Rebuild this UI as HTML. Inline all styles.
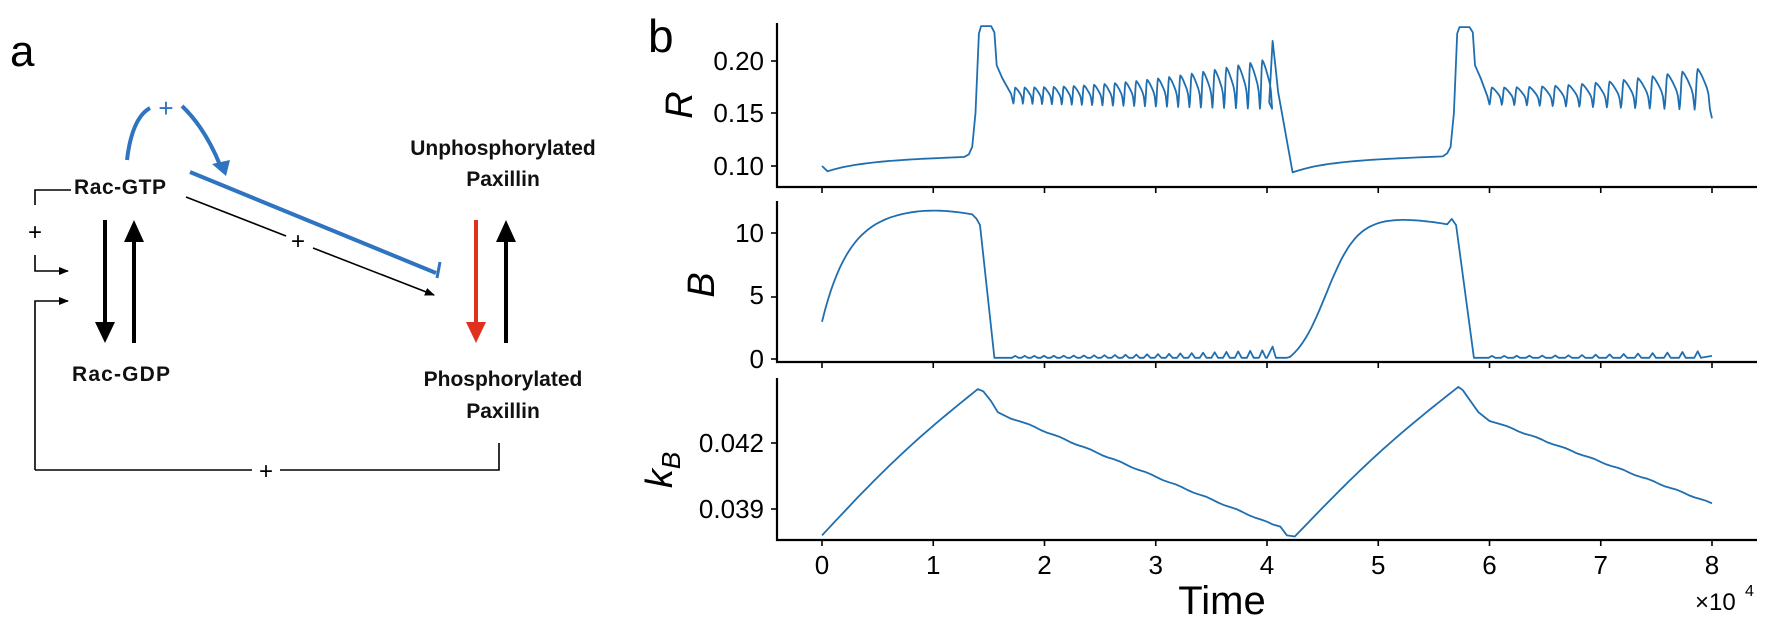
<!DOCTYPE html>
<html><head><meta charset="utf-8"><style>
html,body{margin:0;padding:0;background:#fff;width:1768px;height:626px;overflow:hidden}
svg{display:block}
text{font-family:"Liberation Sans","DejaVu Sans",sans-serif}
</style></head><body>
<svg id="s" width="1768" height="626" viewBox="0 0 1768 626" xmlns="http://www.w3.org/2000/svg">
<defs>
<marker id="ah" markerWidth="10" markerHeight="8" refX="9" refY="4" orient="auto" markerUnits="userSpaceOnUse"><path d="M0,0 L10,4 L0,8 Z" fill="#000"/></marker>
</defs>
<text x="10" y="66" font-size="44" fill="#000">a</text>
<g font-weight="bold" font-size="21" fill="#111">
<text x="74" y="194" textLength="92">Rac-GTP</text>
<text x="72" y="381" textLength="98">Rac-GDP</text>
<text x="503" y="155" text-anchor="middle">Unphosphorylated</text>
<text x="503" y="186" text-anchor="middle">Paxillin</text>
<text x="503" y="386" text-anchor="middle">Phosphorylated</text>
<text x="503" y="418" text-anchor="middle">Paxillin</text>
</g>
<g stroke="#000" fill="none" stroke-width="1.6">
<polyline points="35,205 35,190 71,190"/>
<polyline points="35,255 35,271 68,271" marker-end="url(#ah)"/>
<polyline points="35,470 35,301 68,301" marker-end="url(#ah)"/>
<polyline points="35,470 252,470"/><polyline points="280,470 499,470 499,443"/>
<line x1="186" y1="197" x2="286" y2="236"/>
<line x1="313" y1="248" x2="434" y2="295" marker-end="url(#ah)"/>
</g>
<g font-size="24" fill="#000"><text x="35" y="240" text-anchor="middle">+</text><text x="298" y="249" text-anchor="middle">+</text><text x="266" y="479" text-anchor="middle">+</text></g>
<g stroke="#000" stroke-width="4" fill="none"><line x1="105" y1="220" x2="105" y2="325"/><line x1="134" y1="240" x2="134" y2="343"/><line x1="506" y1="240" x2="506" y2="343"/></g>
<path d="M95,322 L115,322 L105,343 Z M124,242 L144,242 L134,220 Z M496,242 L516,242 L506,220 Z" fill="#000"/>
<line x1="476" y1="220" x2="476" y2="325" stroke="#e0301e" stroke-width="4"/>
<path d="M466,322 L486,322 L476,343 Z" fill="#e0301e"/>
<g stroke="#2f74c0" fill="none" stroke-width="4">
<path d="M127,160 Q132,118 150,108"/>
<path d="M182,106 Q205,128 220,165"/>
<line x1="190" y1="172" x2="436" y2="273"/>
<line x1="440" y1="262" x2="437" y2="278" stroke-width="3"/>
</g>
<path d="M212,164 L230,160 L226,176 Z" fill="#2f74c0"/>
<text x="166" y="117" font-size="26" fill="#2f74c0" text-anchor="middle">+</text>
<text x="648" y="52" font-size="46" fill="#000">b</text>
<g stroke="#000" stroke-width="2.2" fill="none">
<polyline points="777,23 777,187 1757,187"/>
<polyline points="777,201 777,362 1757,362"/>
<polyline points="777,378 777,540 1757,540"/>
</g>
<g id="ticks" stroke="#000" stroke-width="1.6"></g>
<g font-size="26" fill="#000" text-anchor="end">
<text x="764" y="70">0.20</text><text x="764" y="122">0.15</text><text x="764" y="175">0.10</text>
<text x="764" y="242">10</text><text x="764" y="304">5</text><text x="764" y="368">0</text>
<text x="764" y="452">0.042</text><text x="764" y="518">0.039</text>
</g>
<g id="xl" font-size="26" fill="#000" text-anchor="middle"></g>
<text x="1222" y="614" font-size="40" text-anchor="middle">Time</text>
<text x="1695" y="610" font-size="24">×10</text><text x="1745" y="596" font-size="16">4</text>
<g font-size="38" font-style="italic" fill="#000">
<text transform="translate(692,105) rotate(-90)" text-anchor="middle">R</text>
<text transform="translate(714,285) rotate(-90)" text-anchor="middle">B</text>
<text transform="translate(672,470) rotate(-90)" text-anchor="middle">k<tspan font-size="26" dy="8">B</tspan></text>
</g>
<g id="curves" fill="none" stroke="#1f6fb0" stroke-width="1.8" stroke-linejoin="round"></g>
</svg>
<script>
var X=function(t){return 822+t*111.25;};
var ns="http://www.w3.org/2000/svg";
var tk=document.getElementById('ticks'),xl=document.getElementById('xl');
function ln(x1,y1,x2,y2){var l=document.createElementNS(ns,'line');l.setAttribute('x1',x1);l.setAttribute('y1',y1);l.setAttribute('x2',x2);l.setAttribute('y2',y2);tk.appendChild(l);}
[61,113,166,233,297,359,443,509].forEach(function(y){ln(771,y,777,y);});
for(var k=0;k<=8;k++){var x=X(k);ln(x,187,x,193);ln(x,362,x,368);ln(x,540,x,546);
var t=document.createElementNS(ns,'text');t.setAttribute('x',x);t.setAttribute('y',574);t.textContent=k;xl.appendChild(t);}
function osc(start,end,p0,p1,pk0,pk1,mn){var pts=[],peaks=[];var t=start;
 while(t<end){var f=(t-start)/(end-start);var per=p0+(p1-p0)*f;var pk=pk0+(pk1-pk0)*f*f;var m=mn-0.005*f;
  var tr=per*0.2;
  for(var i=0;i<=4;i++){var u=i/4;pts.push([t+tr*u,m+(pk-m)*(0.5-0.5*Math.cos(Math.PI*u))]);}
  for(var i=1;i<=8;i++){var u=i/8;var d=u<0.85?(pk-m)*(1-0.55*Math.pow(u/0.85,1.3)):(pk-m)*0.45*(1-(u-0.85)/0.15);pts.push([t+tr+(per-tr)*u,m+d]);}
  peaks.push([t+tr,f]);t+=per;}
 return {pts:pts,peaks:peaks,t:t};}
var R=[],B=[],K=[];
function addSmooth(arr,f,a,b,n){for(var i=0;i<=n;i++){var t=a+(b-a)*i/n;arr.push([t,f(t)]);}}
R.push([0,0.100],[0.05,0.095]);
addSmooth(R,function(t){return 0.095+0.009*(1-Math.exp(-(t-0.05)/0.3))+0.005*(t-0.05)/1.3;},0.1,1.28,30);
R.push([1.32,0.111],[1.35,0.118],[1.38,0.15],[1.41,0.225],[1.43,0.232],[1.52,0.232],[1.55,0.226],[1.57,0.195],[1.62,0.183],[1.7,0.168]);
var o1=osc(1.72,3.95,0.085,0.11,0.174,0.2,0.159);R=R.concat(o1.pts);
R.push([4.02,0.16],[4.05,0.218],[4.08,0.19],[4.1,0.17],[4.23,0.094]);
addSmooth(R,function(t){return 0.094+0.01*(1-Math.exp(-(t-4.23)/0.3))+0.005*(t-4.23)/1.3;},4.25,5.58,30);
R.push([5.62,0.112],[5.65,0.118],[5.68,0.15],[5.71,0.225],[5.73,0.231],[5.82,0.231],[5.85,0.226],[5.87,0.195],[5.92,0.183],[5.98,0.166]);
var o2=osc(6.0,7.92,0.11,0.14,0.174,0.193,0.158);R=R.concat(o2.pts);
R.push([8.0,0.145]);
function Bup(s){var v=3+9.2*(1-Math.exp(-s/0.25));if(s>0.8)v-=0.5*Math.pow((s-0.8)/0.55,2);return v;}
addSmooth(B,Bup,0,1.35,50);B.push([1.39,11.3],[1.42,10.8],[1.55,0.1]);
function bumps(list,a,b,amp0,amp1){var out=[];out.push([a,0.1]);list.forEach(function(p){var tt=p[0];var f=p[1];if(tt<a||tt>b)return;var amp=amp0+(amp1-amp0)*f*f;out.push([tt-0.03,0.1],[tt,0.1+amp],[tt+0.03,0.1]);});return out;}
B=B.concat(bumps(o1.peaks,1.55,4.0,0.15,0.6));B.push([4.0,0.1],[4.05,1.0],[4.08,0.1],[4.18,0.1]);
addSmooth(B,function(t){var s=t-4.18;var v=12.3/(1+Math.exp(-(s-0.35)/0.14))-12.3/(1+Math.exp(0.35/0.14));if(t>5.0)v-=0.5*Math.pow((t-5.0)/0.62,2);return Math.max(0.1,v);},4.18,5.62,60);
B.push([5.66,11.3],[5.7,10.8],[5.86,0.1]);B=B.concat(bumps(o2.peaks,5.86,8,0.15,0.55));B.push([8,0.25]);
function addLin(arr,a,va,b,vb,n,w){for(var i=0;i<=n;i++){var f=i/n;var t=a+(b-a)*f;var v=va+(vb-va)*f;if(w)v+=w*Math.sin(i*1.3)*0.5;arr.push([t,v]);}}
addSmooth(K,function(t){return 0.0378+0.00665*(t/1.4)+0.0003*Math.sin(Math.PI*t/1.4);},0,1.4,30);
K.push([1.45,0.04435],[1.52,0.0439],[1.58,0.0434],[1.7,0.0431]);
addLin(K,1.8,0.04295,4.0,0.0384,40,0.00005);
K.push([4.05,0.0383],[4.12,0.0382],[4.18,0.0378],[4.25,0.03775]);
addSmooth(K,function(t){var s=t-4.25;return 0.03775+0.0068*(s/1.47)+0.0003*Math.sin(Math.PI*s/1.47);},4.25,5.72,30);
K.push([5.76,0.0444],[5.83,0.0439],[5.9,0.0434],[6.0,0.0430]);
addLin(K,6.1,0.04285,8.0,0.03925,36,0.00005);
function path(arr,fy){return arr.map(function(p,i){return (i?'L':'M')+X(p[0]).toFixed(1)+','+fy(p[1]).toFixed(1);}).join('');}
var g=document.getElementById('curves');
function add(d){var p=document.createElementNS(ns,'path');p.setAttribute('d',d);g.appendChild(p);}
add(path(R,function(v){return 166-(v-0.1)*1060;}));
add(path(B,function(v){return 359-v*12.4;}));
add(path(K,function(v){return 509-(v-0.039)*22000;}));
</script>
</body></html>
